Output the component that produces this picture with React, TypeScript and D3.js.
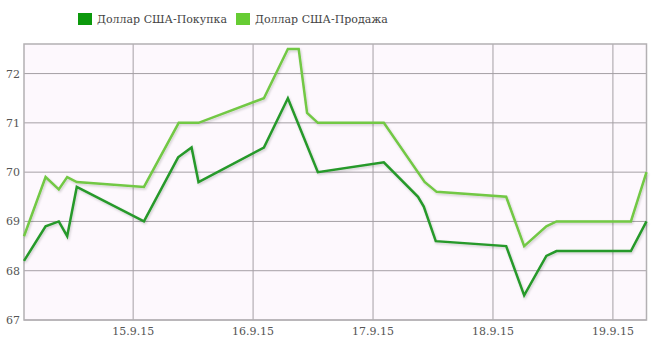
import React from "react";
import * as d3 from "d3";

const buyX = [14.09, 14.27, 14.38, 14.45, 14.53, 15.09, 15.375, 15.487, 15.545, 16.09, 16.29, 16.54, 17.09, 17.375, 17.423, 17.523, 18.11, 18.26, 18.445, 18.53, 19.15, 19.28];
const buyY = [68.2, 68.9, 69.0, 68.7, 69.7, 69.0, 70.3, 70.5, 69.8, 70.5, 71.5, 70.0, 70.2, 69.5, 69.3, 68.6, 68.5, 67.5, 68.3, 68.4, 68.4, 69.0];

const sellX = [14.09, 14.27, 14.38, 14.45, 14.53, 15.09, 15.38, 15.545, 16.09, 16.29, 16.38, 16.45, 16.54, 17.09, 17.43, 17.53, 18.11, 18.26, 18.445, 18.53, 19.15, 19.28];
const sellY = [68.7, 69.9, 69.65, 69.9, 69.8, 69.7, 71.0, 71.0, 71.5, 72.5, 72.5, 71.2, 71.0, 71.0, 69.8, 69.6, 69.5, 68.5, 68.9, 69.0, 69.0, 70.0];

const xTicks = [15, 16, 17, 18, 19];
const xTickLabels = ["15.9.15", "16.9.15", "17.9.15", "18.9.15", "19.9.15"];
const yTicks = [67, 68, 69, 70, 71, 72];
const seriesNames = ["Доллар США-Покупка", "Доллар США-Продажа"];

const W = 670, H = 361;
const L = 24, R = 646.5, T = 44, B = 320;
const fontFam = "'DejaVu Serif', serif";

export default function App() {
  const x = d3.scaleLinear().domain([14.09, 19.28]).range([L, R]);
  const y = d3.scaleLinear().domain([67, 72.6]).range([B, T]);
  const line = d3.line<[number, number]>().x(d => x(d[0])).y(d => y(d[1]));
  const buy = buyX.map((v, i) => [v, buyY[i]] as [number, number]);
  const sell = sellX.map((v, i) => [v, sellY[i]] as [number, number]);
  const gridColor = "#a59fa5";
  return (
    <svg width={W} height={H} style={{ position: "absolute", left: 0, top: 0, background: "#fff" }}>
      <defs>
        <filter id="sh" x="-5%" y="-5%" width="110%" height="120%">
          <feDropShadow dx="1" dy="1.5" stdDeviation="1.2" floodColor="#000" floodOpacity="0.18" />
        </filter>
      </defs>
      <rect x={L} y={T} width={R - L} height={B - T} fill="#fdf8fd" />
      {yTicks.map(t => (
        <g key={"y" + t}>
          <line x1={L} x2={R} y1={y(t)} y2={y(t)} stroke={gridColor} strokeWidth={1} />
          <text x={20} y={y(t) + 4} textAnchor="end" fontFamily={fontFam} fontSize={11} fill="#555">{t}</text>
        </g>
      ))}
      {xTicks.map((t, i) => (
        <g key={"x" + t}>
          <line x1={x(t)} x2={x(t)} y1={T} y2={B} stroke={gridColor} strokeWidth={1} />
          <text x={x(t)} y={335} textAnchor="middle" fontFamily={fontFam} fontSize={11} fill="#555">{xTickLabels[i]}</text>
        </g>
      ))}
      <rect x={L} y={T} width={R - L} height={B - T} fill="none" stroke="#b3b0b3" strokeWidth={1.5} />
      <path d={line(sell) || ""} fill="none" stroke="#72c844" strokeWidth={2.5} strokeLinejoin="miter" filter="url(#sh)" />
      <path d={line(buy) || ""} fill="none" stroke="#26992a" strokeWidth={2.5} strokeLinejoin="miter" filter="url(#sh)" />
      <rect x={78} y={13} width={14} height={12} fill="#0c990c" />
      <text x={97} y={23} fontFamily={fontFam} fontSize={11} fill="#444">{seriesNames[0]}</text>
      <rect x={236} y={13} width={14} height={12} fill="#66cc33" />
      <text x={255} y={23} fontFamily={fontFam} fontSize={11} fill="#444">{seriesNames[1]}</text>
    </svg>
  );
}
